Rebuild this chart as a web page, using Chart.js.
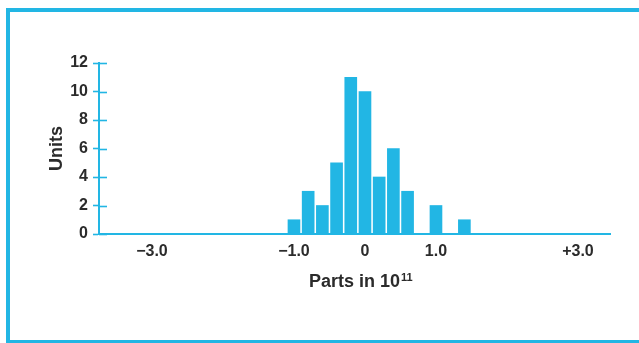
<!DOCTYPE html>
<html>
<head>
<meta charset="utf-8">
<script src="https://cdn.jsdelivr.net/npm/chart.js@4/dist/chart.umd.min.js"></script>
<style>
  html, body { margin: 0; padding: 0; background: #fff; overflow: hidden; }
  #wrap { position: relative; width: 639px; height: 343px; }
  #frame { position: absolute; left: 6px; top: 8px; width: 700px; height: 328px;
           border-left: 4px solid #22b6e4; border-top: 4px solid #22b6e4; border-bottom: 3px solid #22b6e4; }
  canvas { position: absolute; left: 0; top: 0; }
</style>
</head>
<body>
<div id="wrap">
  <div id="frame"></div>
  <canvas id="c" width="639" height="343"></canvas>
</div>
<script>
// Histogram data (bin centre in parts in 10^11, count of units)
const binCenters = [-1.0, -0.8, -0.6, -0.4, -0.2, 0.0, 0.2, 0.4, 0.6, 1.0, 1.4];
const counts     = [1, 3, 2, 5, 11, 10, 4, 6, 3, 2, 1];

// Axis tick values and labels
const xTickValues = [-3, -1, 0, 1, 3];
const xTickLabels = ['\u22123.0', '\u22121.0', '0', '1.0', '+3.0'];
const yTickValues = [0, 2, 4, 6, 8, 10, 12];

const xTitleMain = 'Parts in 10';
const xTitleExp = '11';

const CYAN = '#22b6e4';
const INK = '#2b2b2b';
const FONT = "'Liberation Sans', Arial, Helvetica, sans-serif";
const X_TITLE_SIZE = 18;
const X_TITLE_PAD = 50;

const inwardTicks = {
  id: 'inwardTicks',
  afterDatasetsDraw(chart) {
    const y = chart.scales.y;
    const ctx = chart.ctx;
    ctx.save();
    ctx.strokeStyle = CYAN;
    ctx.lineWidth = 1.6;
    yTickValues.forEach(v => {
      const py = Math.round(y.getPixelForValue(v)) + 0.5;
      ctx.beginPath();
      ctx.moveTo(chart.chartArea.left, py);
      ctx.lineTo(chart.chartArea.left + 8, py);
      ctx.stroke();
    });
    ctx.restore();
  }
};

const superscript = {
  id: 'superscript',
  afterDraw(chart) {
    const s = chart.scales.x;
    const ctx = chart.ctx;
    ctx.save();
    ctx.font = 'bold ' + X_TITLE_SIZE + 'px ' + FONT;
    const w = ctx.measureText(xTitleMain).width;
    const cx = (s.left + s.right) / 2;
    const cy = s.bottom - X_TITLE_PAD - X_TITLE_SIZE * 1.2 / 2;
    ctx.font = 'bold 11px ' + FONT;
    ctx.fillStyle = INK;
    ctx.textAlign = 'left';
    ctx.textBaseline = 'middle';
    ctx.fillText(xTitleExp, cx + w / 2 + 1, cy - 4.5);
    ctx.restore();
  }
};

new Chart(document.getElementById('c'), {
  type: 'bar',
  data: {
    datasets: [{
      data: binCenters.map((x, i) => ({ x: x, y: counts[i] })),
      backgroundColor: CYAN,
      borderWidth: 0,
      barThickness: 12
    }]
  },
  plugins: [inwardTicks, superscript],
  options: {
    responsive: false,
    animation: false,
    devicePixelRatio: 1,
    layout: { padding: { top: 63, right: 29, left: 0, bottom: 0 } },
    plugins: { legend: { display: false }, tooltip: { enabled: false } },
    scales: {
      x: {
        type: 'linear',
        offset: false,
        min: -3.746,
        max: 3.451,
        afterFit: s => { s.height = 109; },
        afterBuildTicks: s => { s.ticks = xTickValues.map(v => ({ value: v })); },
        grid: { display: false, drawTicks: false, offset: false },
        border: { display: true, color: CYAN, width: 2 },
        ticks: {
          padding: 8,
          color: INK,
          font: { family: FONT, size: 16, weight: 'bold' },
          maxRotation: 0,
          autoSkip: false,
          callback: (v) => { const i = xTickValues.indexOf(v); return i >= 0 ? xTickLabels[i] : ''; }
        },
        title: {
          display: true,
          text: xTitleMain,
          color: INK,
          font: { family: FONT, size: X_TITLE_SIZE, weight: 'bold' },
          padding: { top: 0, bottom: X_TITLE_PAD }
        }
      },
      y: {
        min: 0,
        max: 12,
        afterFit: s => { s.width = 99; },
        afterBuildTicks: s => { s.ticks = yTickValues.map(v => ({ value: v })); },
        grid: { drawOnChartArea: false, drawTicks: true, tickLength: 6, tickColor: CYAN, tickWidth: 1.6 },
        border: { display: true, color: CYAN, width: 2 },
        ticks: {
          padding: 5,
          color: INK,
          font: { family: FONT, size: 16, weight: 'bold' }
        },
        title: {
          display: true,
          text: 'Units',
          color: INK,
          font: { family: FONT, size: 18, weight: 'bold' },
          padding: { top: 46, bottom: 0 }
        }
      }
    }
  }
});
</script>
</body>
</html>
